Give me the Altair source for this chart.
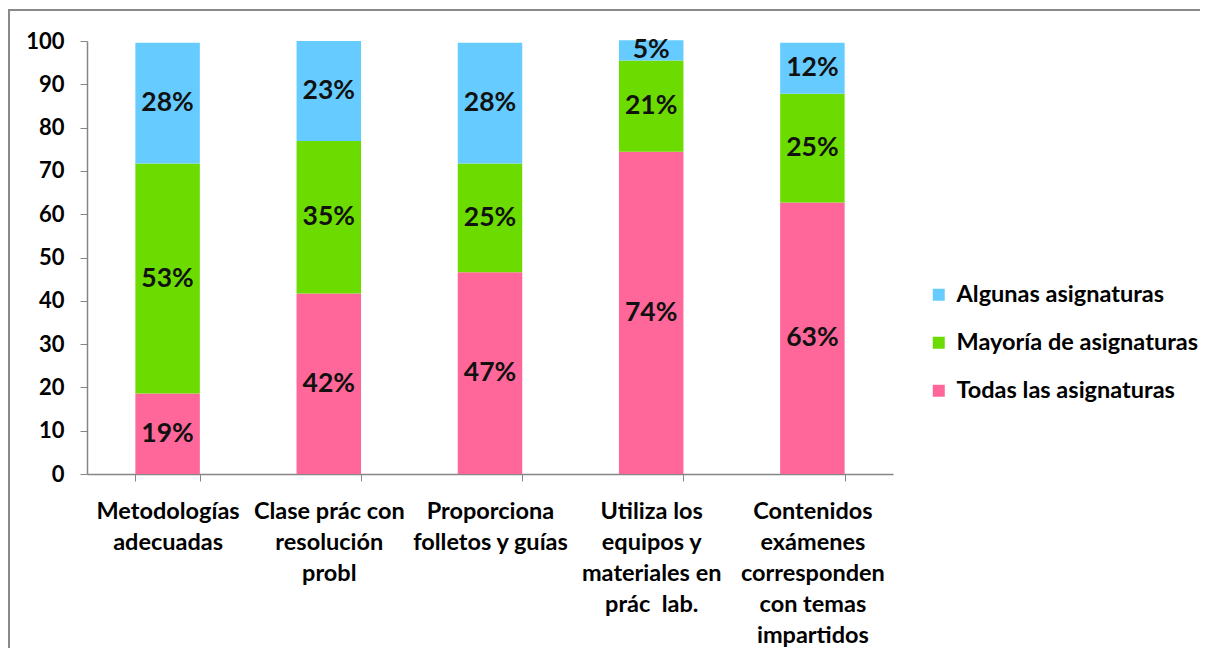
import altair as alt
import pandas as pd

categories = [
    "Metodologías\nadecuadas",
    "Clase prác con\nresolución\nprobl",
    "Proporciona\nfolletos y guías",
    "Utiliza los\nequipos y\nmateriales en\nprác\u00a0 lab.",
    "Contenidos\nexámenes\ncorresponden\ncon temas\nimpartidos",
]
series = ["Todas las asignaturas", "Mayoría de asignaturas", "Algunas asignaturas"]
todas = [18.6, 41.7, 46.6, 74.4, 62.7]
mayoria = [53.1, 35.2, 25.1, 21.1, 25.1]
algunas = [27.9, 23.1, 27.9, 4.7, 11.8]
labels_todas = ["19%", "42%", "47%", "74%", "63%"]
labels_mayoria = ["53%", "35%", "25%", "21%", "25%"]
labels_algunas = ["28%", "23%", "28%", "5%", "12%"]
series_colors = ["#FF6699", "#6CDC00", "#66CCFF"]
legend_order = ["Algunas asignaturas", "Mayoría de asignaturas", "Todas las asignaturas"]
y_ticks = [0, 10, 20, 30, 40, 50, 60, 70, 80, 90, 100]

rows = []
for s_idx, (name, vals, labs) in enumerate(
    zip(series, [todas, mayoria, algunas], [labels_todas, labels_mayoria, labels_algunas])
):
    for c, v, l in zip(categories, vals, labs):
        rows.append({"cat": c, "serie": name, "value": v, "ord": s_idx, "label": l})
df = pd.DataFrame(rows)

color_map = dict(zip(series, series_colors))
color_scale = alt.Scale(domain=legend_order, range=[color_map[s] for s in legend_order])

x_enc = alt.X(
    "cat:N",
    sort=categories,
    scale=alt.Scale(paddingInner=0.6, paddingOuter=0.3),
    axis=alt.Axis(
        title=None,
        labelAngle=0,
        tickBand="extent",
        labelExpr="split(datum.label, '\\n')",
        labelLineHeight=31,
        labelPadding=18,
        tickSize=7,
        labelLimit=0,
        labelOverlap=False,
        labelBaseline="top",
        labelFontSize=23.5,
    ),
)

bars = alt.Chart(df).mark_bar().encode(
    x=x_enc,
    y=alt.Y(
        "value:Q",
        stack="zero",
        scale=alt.Scale(domain=[0, 100], nice=False),
        axis=alt.Axis(title=None, values=y_ticks, grid=False, tickSize=7, labelPadding=16),
    ),
    color=alt.Color(
        "serie:N",
        scale=color_scale,
        legend=alt.Legend(
            title=None,
            orient="none",
            legendX=840,
            legendY=242,
            padding=0,
            symbolType="square",
            symbolSize=144,
            symbolStrokeWidth=0,
            labelOffset=6,
            rowPadding=23,
            labelFont="Lato",
            labelFontWeight="bold",
            labelFontSize=23.5,
            labelColor="#000000",
            labelLimit=0,
        ),
    ),
    order=alt.Order("ord:Q", sort="ascending"),
)

texts = (
    alt.Chart(df)
    .transform_stack(
        stack="value",
        groupby=["cat"],
        as_=["y0", "y1"],
        sort=[alt.SortField("ord", order="ascending")],
    )
    .transform_calculate(mid="(datum.y0 + datum.y1) / 2")
    .mark_text(font="Lato", fontWeight="bold", fontSize=26.5, color="#111111", baseline="middle", align="center")
    .encode(x=alt.X("cat:N", sort=categories), y=alt.Y("mid:Q"), text="label:N")
)

frame_df = pd.DataFrame({"d": [0]})
border_top = (
    alt.Chart(frame_df)
    .mark_rule(color="#898989", strokeWidth=2)
    .encode(x=alt.value(-78), x2=alt.value(1113), y=alt.value(-31))
)
border_left = (
    alt.Chart(frame_df)
    .mark_rule(color="#898989", strokeWidth=2)
    .encode(x=alt.value(-78), y=alt.value(-32), y2=alt.value(700))
)

chart = (
    alt.layer(border_top, border_left, bars, texts)
    .properties(
        width=806,
        height=433,
        autosize=alt.AutoSizeParams(type="none"),
        padding={"left": 79, "top": 33, "right": 315, "bottom": 174},
    )
    .configure_view(stroke=None)
    .configure_axis(
        domainColor="#868686",
        tickColor="#868686",
        domainWidth=1.5,
        labelFont="Lato",
        labelFontWeight="bold",
        labelFontSize=22,
        labelColor="#000000",
    )
)

chart.save("out.html", embed_options={"renderer": "svg", "actions": False})
